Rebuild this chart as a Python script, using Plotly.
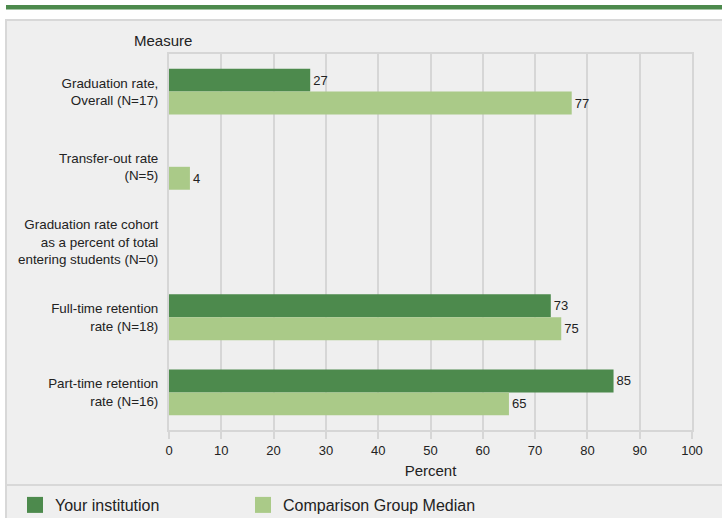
import plotly.graph_objects as go

categories = [
    "Graduation rate,<br>Overall (N=17)",
    "Transfer-out rate<br>(N=5)",
    "Graduation rate cohort<br>as a percent of total<br>entering students (N=0)",
    "Full-time retention<br>rate (N=18)",
    "Part-time retention<br>rate (N=16)",
]
your_institution = [27, None, None, 73, 85]
comparison_median = [77, 4, None, 75, 65]
series_names = ["Your institution", "Comparison Group Median"]
x_ticks = [0, 10, 20, 30, 40, 50, 60, 70, 80, 90, 100]

DARK = "#4d8a4d"
LIGHT = "#aaca88"
BG = "#efefef"
GRID = "#d6d6d6"
TXT = "#222222"
FONT = "Liberation Sans, Arial, sans-serif"

W, H = 722, 518
ML, MR, MT, MB = 169, 30, 54, 88
PW, PH = W - ML - MR, H - MT - MB


def px(xp):
    return (xp - ML) / PW


def py(yp):
    return (H - MB - yp) / PH


def lbl(vals):
    return ["" if v is None else str(v) for v in vals]


fig = go.Figure()
series = [(your_institution, DARK, "legend"), (comparison_median, LIGHT, "legend2")]
for name, (vals, color, leg) in zip(series_names, series):
    fig.add_trace(go.Bar(
        y=categories, x=vals, orientation="h", name=name,
        marker=dict(color=color, line=dict(width=0)), text=lbl(vals),
        textposition="outside", textfont=dict(size=13, color=TXT, family=FONT),
        cliponaxis=False, hoverinfo="x+y", showlegend=False, legendgroup=name,
    ))
for name, (vals, color, leg) in zip(series_names, series):
    # legend key (square swatch) for the bar series
    fig.add_trace(go.Scatter(
        x=[None], y=[None], mode="markers", name=name, legend=leg, legendgroup=name,
        marker=dict(symbol="square", size=16, color=color, line=dict(width=0)),
        showlegend=True, hoverinfo="skip",
    ))

shapes = [
    # top green rule
    dict(type="rect", xref="paper", yref="paper", x0=px(6), x1=px(722), y0=py(9.5), y1=py(5),
         fillcolor=DARK, line=dict(width=0), layer="below"),
    # grey panel
    dict(type="rect", xref="paper", yref="paper", x0=px(6), x1=px(724), y0=py(520), y1=py(20),
         fillcolor=BG, line=dict(color="#d8d8d8", width=2), layer="below"),
    # legend separator
    dict(type="line", xref="paper", yref="paper", x0=px(6), x1=px(722), y0=py(485), y1=py(485),
         line=dict(color="#d8d8d8", width=2), layer="below"),
]

legend_common = dict(orientation="h", xanchor="left", yanchor="middle", valign="middle",
                     bgcolor="rgba(0,0,0,0)", font=dict(size=16, family=FONT, color=TXT),
                     itemclick=False, itemdoubleclick=False)

fig.update_layout(
    width=W, height=H,
    margin=dict(l=ML, r=MR, t=MT, b=MB, autoexpand=False),
    paper_bgcolor="white", plot_bgcolor=BG,
    font=dict(family=FONT, size=13, color=TXT),
    barmode="group", bargap=0.39, bargroupgap=0,
    showlegend=True,
    legend=dict(x=px(15), y=py(505), **legend_common),
    legend2=dict(x=px(243), y=py(505), **legend_common),
    xaxis=dict(range=[0, 100], tickvals=x_ticks, showgrid=True, gridcolor=GRID, gridwidth=2,
               showline=True, linecolor=GRID, linewidth=2, mirror=True,
               ticks="outside", ticklen=7, tickcolor=GRID, tickwidth=2,
               tickfont=dict(size=13, family=FONT, color=TXT), zeroline=False,
               title=dict(text="Percent", font=dict(size=15, family=FONT, color=TXT), standoff=9),
               fixedrange=True),
    yaxis=dict(autorange="reversed", showgrid=False, showline=True, linecolor=GRID, linewidth=2,
               mirror=True, ticks="", ticklabelstandoff=6,
               tickfont=dict(size=13.4, family=FONT, color=TXT), fixedrange=True),
    shapes=shapes,
    annotations=[dict(text="Measure", xref="paper", yref="paper", x=px(163), y=py(40),
                      xanchor="center", yanchor="middle", showarrow=False,
                      font=dict(size=15, family=FONT, color=TXT))],
)

fig.write_html("out.html", config={"displayModeBar": False},
               post_script="document.body.style.margin='0';document.body.style.overflow='hidden';")
